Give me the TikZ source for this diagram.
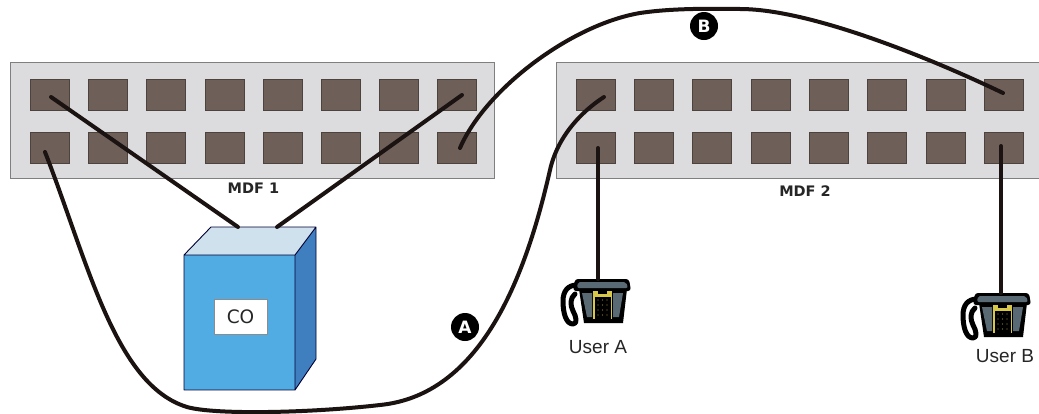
\documentclass[tikz,border=0pt]{standalone}
\usepackage{fontspec}
\setmainfont{Liberation Sans}
\newfontfamily\dv{DejaVu Sans}
\definecolor{panelc}{HTML}{DCDCDE}
\definecolor{paneledge}{HTML}{7F7F80}
\definecolor{portc}{HTML}{6E5F58}
\definecolor{fronttc}{HTML}{52ACE4}
\definecolor{topc}{HTML}{CFE1EC}
\definecolor{sidec}{HTML}{3F7FBF}
\definecolor{wirec}{HTML}{1A1311}
\definecolor{phonebody}{HTML}{5A6A75}
\definecolor{keyc}{HTML}{D8C84A}
\tikzset{
  panelbox/.style={draw=paneledge,fill=panelc,line width=1pt,minimum width=#1,minimum height=116pt,inner sep=0pt,anchor=north west},
  portbox/.style={draw=portc!70!black,fill=portc,line width=.7pt,minimum width=39pt,minimum height=31pt,inner sep=0pt,anchor=north west},
  wire/.style={draw=wirec,line width=4pt,line cap=round,line join=round},
  badge/.style={circle,fill=black,text=white,minimum size=28pt,inner sep=0pt,font=\dv\bfseries\fontsize{17}{17}\selectfont},
  mdflabel/.style={font=\dv\bfseries\fontsize{14.5}{16}\selectfont,text=black!85},
  userlabel/.style={font=\fontsize{19}{21}\selectfont,text=black!85},
  phone/.pic={
    % coiled cord
    \draw[black,line width=5pt,line cap=round,line join=round] (-21,6) .. controls (-30,6) and (-35,12) .. (-35,22) .. controls (-35,34) and (-32,45) .. (-25,45) .. controls (-20,45) and (-22,37) .. (-25,32) .. controls (-28,26) and (-28,19) .. (-23,15);
    % body
    \fill[black] (-19,10) -- (29,10) -- (25,44) -- (-14,44) -- cycle;
    \fill[phonebody] (-16,14) -- (-6,14) -- (-6,38) -- (-11,38) -- cycle;
    \fill[phonebody] (25,14) -- (15,14) -- (15,38) -- (21,38) -- cycle;
    % handset
    \fill[black,rounded corners=3pt] (-23,0) -- (31,0) -- (33,12) -- (-25,12) -- cycle;
    \fill[phonebody,rounded corners=2pt] (-20,3) -- (28,3) -- (30,9) -- (-21,9) -- cycle;
    % keypad
    \fill[keyc] (-5,12) -- (14,12) -- (14,40) -- (-5,40) -- cycle;
    \fill[black] (-3,18) rectangle (13,40);
    \fill[black] (0,11) rectangle (9,15);
    \foreach \kx in {0,4.5,9}{\foreach \ky in {21,26,31,36}{
      \fill[keyc!70!black] (\kx,\ky) circle (.7pt);
    }}
  }
}
\begin{document}
\begin{tikzpicture}[x=1pt,y=-1pt]
\useasboundingbox[fill=white] (0,0) rectangle (1039,413);
\node[panelbox=484pt] (panelone) at (9.5,61.5) {};
\node[panelbox=484pt] (paneltwo) at (556,61.5) {};
\foreach \n/\x in {1/30,2/88,3/146,4/204.5,5/263,6/321,7/379,8/437}{
  \node[portbox] (pa\n) at (\x,79) {};
  \node[portbox] (pb\n) at (\x,132) {};
}
\foreach \n/\x in {1/576,2/634,3/692,4/751,5/809,6/867,7/926,8/984}{
  \node[portbox] (qa\n) at (\x,79) {};
  \node[portbox] (qb\n) at (\x,132) {};
}
\node[mdflabel] (mdfone) at (253.5,188) {MDF 1};
\node[mdflabel] (mdftwo) at (805,191.5) {MDF 2};
% CO cube
\fill[topc] (184,255) -- (211,227) -- (316,227) -- (295,255) -- cycle;
\fill[sidec] (295,255) -- (316,227) -- (316,359) -- (295,390) -- cycle;
\fill[fronttc] (184,255) rectangle (295,390);
\draw[black!80!blue,line width=.9pt,line join=round] (184,390) -- (184,255) -- (211,227) -- (316,227) -- (316,359) -- (295,390) -- cycle (184,255) -- (295,255) -- (295,390) (295,255) -- (316,227);
\coordinate (cubeleft) at (238,227);
\coordinate (cuberight) at (277,227);
\node[draw=black!45,fill=white,line width=.7pt,minimum width=53pt,minimum height=35pt,inner sep=0pt,font=\dv\fontsize{18.5}{18}\selectfont,text=black!85] (co) at (240.5,316.5) {CO};
% phones
\pic at (598,279) {phone};
\pic at (998,293) {phone};
\coordinate (phonea) at (598,279);
\coordinate (phoneb) at (1001,293);
\node[userlabel] (usera) at (598,347) {User A};
\node[userlabel] (userb) at (1005,356) {User B};
% wire ends
\coordinate (e1) at (51,97);
\coordinate (e2) at (462,95);
\coordinate (e3) at (45,152);
\coordinate (e4) at (604,97);
\coordinate (e5) at (460,148);
\coordinate (e6) at (1003,93);
\coordinate (e7) at (598,148);
\coordinate (e8) at (1001,146);
\draw[wire] (e1) -- (cubeleft);
\draw[wire] (e2) -- (cuberight);
\draw[wire] (e3) .. controls (88,262) and (115,385) .. (187,407)
  .. controls (215,415) and (310,413) .. (380,405)
  .. controls (480,395) and (525,280) .. (550,170)
  .. controls (559,130) and (590,106) .. (e4);
\draw[wire] (e5) .. controls (485,90) and (570,25) .. (640,13)
  .. controls (670,8.5) and (705,8.5) .. (740,9)
  .. controls (810,9) and (930,58) .. (e6);
\draw[wire] (e7) -- (phonea);
\draw[wire] (e8) -- (phoneb);
\node[badge] (bada) at (465,327) {A};
\node[badge] (badb) at (704,26) {B};
\end{tikzpicture}
\end{document}
